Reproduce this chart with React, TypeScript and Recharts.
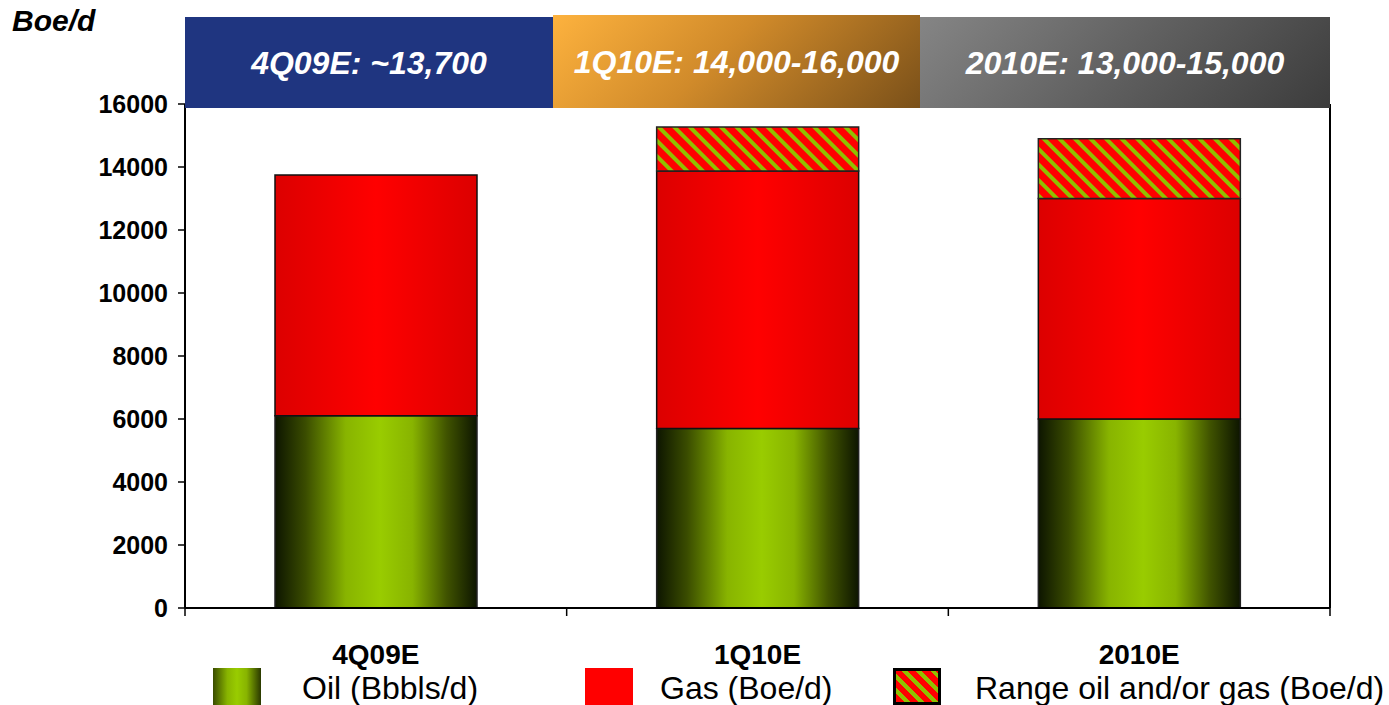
import React from 'react';
import { BarChart, Bar, XAxis, YAxis } from 'recharts';

const categories = ['4Q09E', '1Q10E', '2010E'];
const oilValues = [6100, 5700, 6000];
const gasValues = [7650, 8170, 7000];
const rangeValues = [0, 1400, 1900];
const yTicks = [0, 2000, 4000, 6000, 8000, 10000, 12000, 14000, 16000];
const boundaryTicks = [0, 1, 2, 3];
const headerLabels = ['4Q09E: ~13,700', '1Q10E: 14,000-16,000', '2010E: 13,000-15,000'];
const seriesNames = ['Oil (Bbbls/d)', 'Gas (Boe/d)', 'Range oil and/or gas (Boe/d)'];
const unitLabel = 'Boe/d';

const data = categories.map((name, i) => ({
  name,
  pos: i + 0.5,
  oil: oilValues[i],
  gas: gasValues[i],
  range: rangeValues[i],
}));

const FONT = '"Liberation Sans", Arial, sans-serif';

const headerStyles = [
  { left: 185, width: 368, top: 17, height: 91, background: '#1f3580' },
  { left: 553, width: 367, top: 15, height: 93, background: 'linear-gradient(135deg, #fdb23e 0%, #d08a2a 45%, #7a5019 100%)' },
  { left: 920, width: 410, top: 17, height: 91, background: 'linear-gradient(135deg, #858585 0%, #606060 50%, #3c3c3c 100%)' },
];

const legendPos = [
  { marker: 213, text: 302 },
  { marker: 585, text: 660 },
  { marker: 893, text: 975 },
];

const hatchBg =
  'repeating-linear-gradient(45deg, #ff0000 0px, #ff0000 6px, #8fc000 6px, #8fc000 10px)';

export default function App() {
  return (
    <div style={{ position: 'absolute', left: 0, top: 0, width: 1389, height: 705, background: '#fff', fontFamily: FONT }}>
      <BarChart
        width={1389}
        height={705}
        data={data}
        margin={{ top: 104, right: 49, bottom: 27, left: 0 }}
      >
        <defs>
          <linearGradient id="oilGrad" x1="0" y1="0" x2="1" y2="0">
            <stop offset="0%" stopColor="#0d1500" />
            <stop offset="15%" stopColor="#3a4c00" />
            <stop offset="35%" stopColor="#88b400" />
            <stop offset="52%" stopColor="#99cc00" />
            <stop offset="68%" stopColor="#88b400" />
            <stop offset="85%" stopColor="#405300" />
            <stop offset="100%" stopColor="#0d1500" />
          </linearGradient>
          <linearGradient id="gasGrad" x1="0" y1="0" x2="1" y2="0">
            <stop offset="0%" stopColor="#dc0000" />
            <stop offset="50%" stopColor="#ff0000" />
            <stop offset="100%" stopColor="#dc0000" />
          </linearGradient>
          <pattern id="hatch" width="11" height="11" patternUnits="userSpaceOnUse" patternTransform="rotate(-45)">
            <rect x="0" y="0" width="11" height="11" fill="#ff0000" />
            <rect x="0" y="0" width="4" height="11" fill="#8fc000" />
          </pattern>
        </defs>
        <YAxis
          yAxisId="left"
          width={185}
          domain={[0, 16000]}
          ticks={yTicks}
          interval={0}
          tickSize={7}
          tickMargin={10}
          axisLine={{ stroke: '#000', strokeWidth: 2 }}
          tickLine={{ stroke: '#000', strokeWidth: 1.5 }}
          tick={{ fill: '#000', fontSize: 25, fontWeight: 700, fontFamily: FONT }}
        />
        <YAxis
          yAxisId="right"
          orientation="right"
          width={10}
          domain={[0, 16000]}
          tick={false}
          tickLine={false}
          axisLine={{ stroke: '#000', strokeWidth: 2 }}
        />
        <XAxis
          xAxisId="a_grid"
          dataKey="pos"
          type="number"
          domain={[0, 3]}
          ticks={boundaryTicks}
          interval={0}
          allowDataOverflow
          tickFormatter={() => ''}
          tickSize={8}
          height={10}
          axisLine={{ stroke: '#000', strokeWidth: 2 }}
          tickLine={{ stroke: '#000', strokeWidth: 1.5 }}
        />
        <XAxis
          xAxisId="b_cat"
          dataKey="name"
          axisLine={false}
          tickLine={false}
          tickSize={0}
          tickMargin={26}
          height={60}
          interval={0}
          tick={{ fill: '#000', fontSize: 28, fontWeight: 700, fontFamily: FONT }}
        />
        <Bar dataKey="oil" name={seriesNames[0]} stackId="a" xAxisId="b_cat" yAxisId="left" barSize={202} fill="url(#oilGrad)" stroke="#222" strokeWidth={1.5} isAnimationActive={false} />
        <Bar dataKey="gas" name={seriesNames[1]} stackId="a" xAxisId="b_cat" yAxisId="left" barSize={202} fill="url(#gasGrad)" stroke="#111" strokeWidth={1.5} isAnimationActive={false} />
        <Bar dataKey="range" name={seriesNames[2]} stackId="a" xAxisId="b_cat" yAxisId="left" barSize={202} fill="url(#hatch)" stroke="#222" strokeWidth={1.5} isAnimationActive={false} />
      </BarChart>

      <div style={{ position: 'absolute', left: 12, top: 3, fontSize: 30, fontWeight: 700, fontStyle: 'italic', color: '#000', lineHeight: '36px' }}>
        {unitLabel}
      </div>

      {headerLabels.map((label, i) => (
        <div
          key={label}
          style={{
            position: 'absolute',
            left: headerStyles[i].left,
            top: headerStyles[i].top,
            width: headerStyles[i].width,
            height: headerStyles[i].height,
            background: headerStyles[i].background,
            display: 'flex',
            alignItems: 'center',
            justifyContent: 'center',
            color: '#fff',
            fontSize: 32,
            fontWeight: 700,
            fontStyle: 'italic',
            paddingTop: 2,
            boxSizing: 'border-box',
          }}
        >
          {label}
        </div>
      ))}

      {seriesNames.map((name, i) => (
        <React.Fragment key={name}>
          <div
            style={{
              position: 'absolute',
              left: legendPos[i].marker,
              top: 668,
              width: 48,
              height: 37,
              boxSizing: 'border-box',
              background: i === 0 ? 'linear-gradient(90deg, #3a4c00 0%, #88b400 30%, #99cc00 50%, #88b400 70%, #2a3800 100%)' : i === 1 ? '#ff0000' : hatchBg,
              border: i === 2 ? '3px solid #000' : 'none',
            }}
          />
          <div
            style={{
              position: 'absolute',
              left: legendPos[i].text,
              top: 669,
              fontSize: 32,
              lineHeight: '38px',
              color: '#000',
              whiteSpace: 'nowrap',
            }}
          >
            {name}
          </div>
        </React.Fragment>
      ))}
    </div>
  );
}
